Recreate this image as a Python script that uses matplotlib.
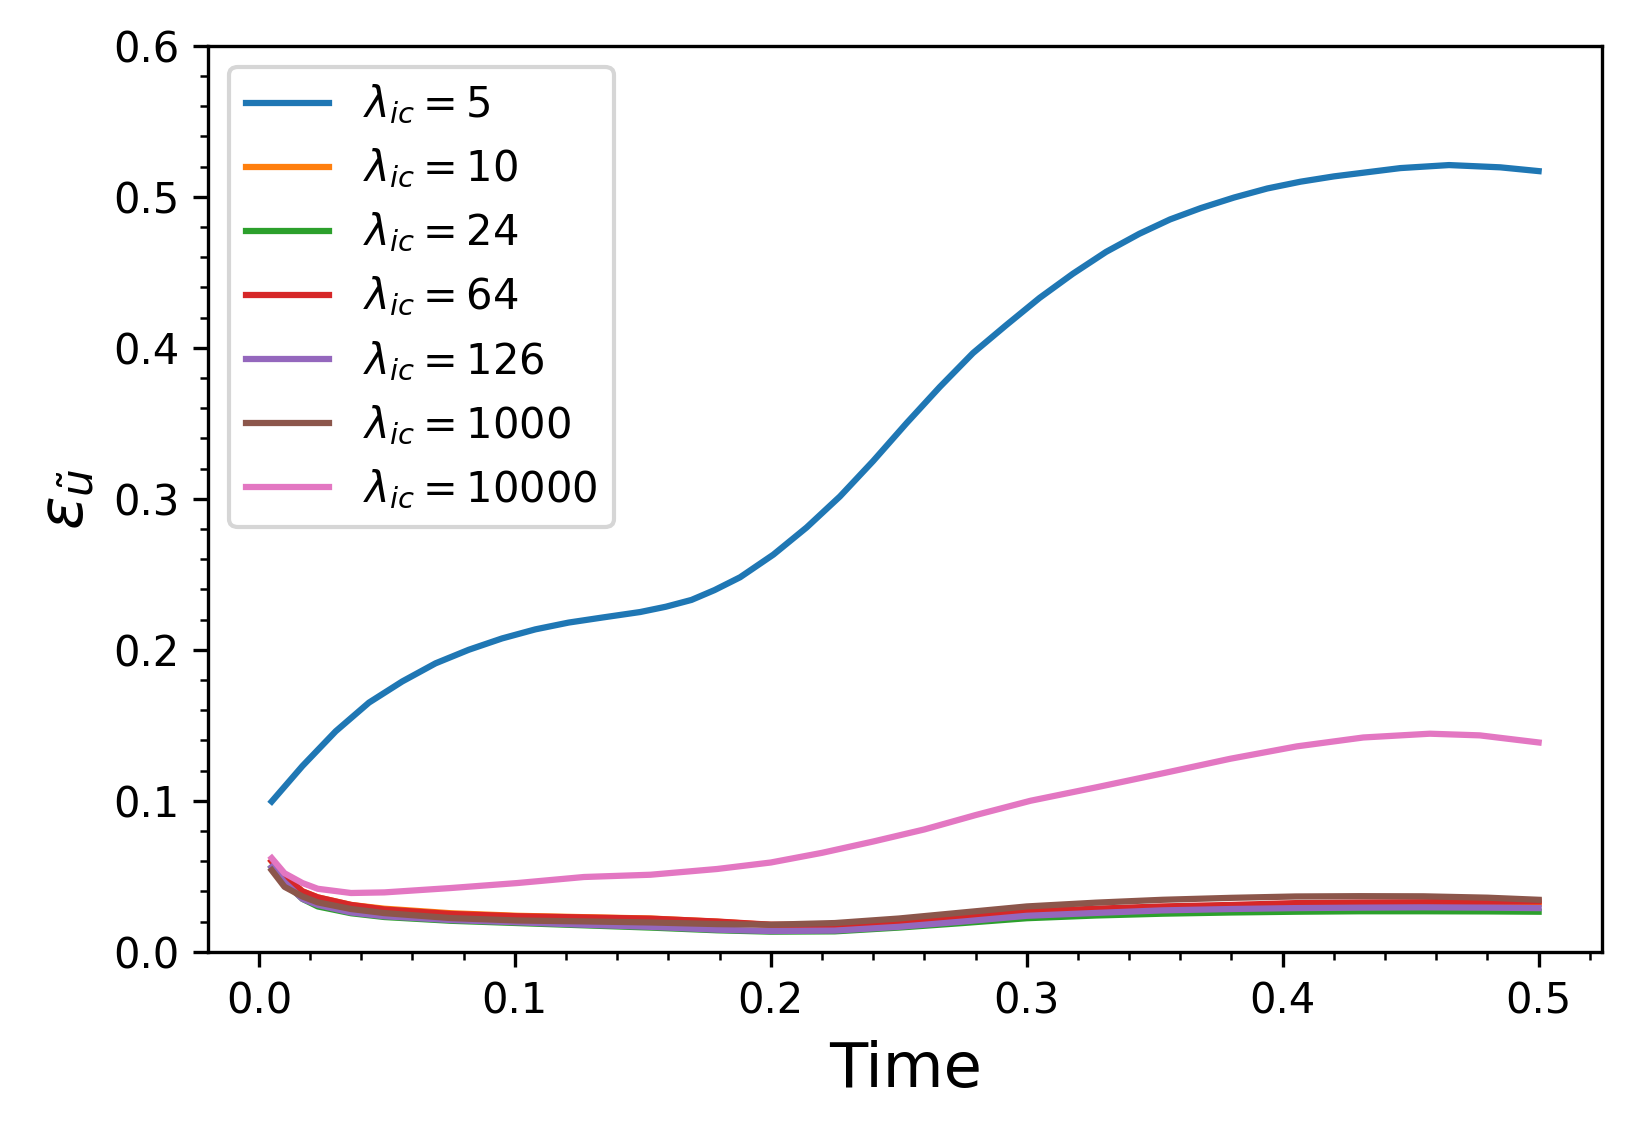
import numpy as np
import matplotlib
matplotlib.use("Agg")
import matplotlib.pyplot as plt
from matplotlib.ticker import AutoMinorLocator

lam_labels = ["5", "10", "24", "64", "126", "1000", "10000"]

# lambda_ic = 5
t_blue = [0.005, 0.017, 0.030, 0.043, 0.056, 0.069, 0.082, 0.095, 0.108, 0.121, 0.134, 0.149,
          0.159, 0.169, 0.178, 0.188, 0.201, 0.214, 0.227, 0.240, 0.253, 0.266, 0.279, 0.292,
          0.305, 0.318, 0.331, 0.344, 0.356, 0.368, 0.381, 0.394, 0.407, 0.420, 0.446, 0.465,
          0.485, 0.500]
err_5 = [0.0995, 0.123, 0.146, 0.165, 0.179, 0.191, 0.200, 0.2075, 0.2135, 0.218, 0.2213, 0.225,
         0.2285, 0.233, 0.2395, 0.248, 0.263, 0.281, 0.3015, 0.325, 0.350, 0.374, 0.3965, 0.415,
         0.433, 0.449, 0.4635, 0.4755, 0.485, 0.4925, 0.4995, 0.5055, 0.510, 0.5135, 0.519, 0.521,
         0.5195, 0.517]

# lambda_ic = 10000
t_pink = [0.005, 0.010, 0.017, 0.023, 0.036, 0.049, 0.075, 0.101, 0.127, 0.153, 0.179, 0.200,
          0.220, 0.240, 0.260, 0.280, 0.3015, 0.3275, 0.3535, 0.3795, 0.4055, 0.4315, 0.4575,
          0.477, 0.500]
err_10000 = [0.062, 0.052, 0.0455, 0.0417, 0.0389, 0.0393, 0.0422, 0.0455, 0.0495, 0.051, 0.0548,
             0.0591, 0.0655, 0.073, 0.081, 0.0905, 0.100, 0.109, 0.1183, 0.1278, 0.136, 0.1419,
             0.1444, 0.1433, 0.1386]

# the low cluster (10, 24, 64, 126, 1000)
t_low = [0.005, 0.010, 0.017, 0.023, 0.036, 0.049, 0.075, 0.101, 0.127, 0.153, 0.179, 0.200,
         0.225, 0.250, 0.275, 0.300, 0.327, 0.353, 0.380, 0.405, 0.430, 0.455, 0.480, 0.500]
err_10 = [0.060, 0.050, 0.040, 0.036, 0.031, 0.0285, 0.0255, 0.0238, 0.0229, 0.022, 0.0199, 0.0177,
          0.0176, 0.0198, 0.023, 0.0262, 0.028, 0.0295, 0.0305, 0.0313, 0.0317, 0.0319, 0.0318, 0.0318]
err_24 = [0.056, 0.046, 0.035, 0.030, 0.0255, 0.023, 0.0205, 0.019, 0.0175, 0.016, 0.0142, 0.0133,
          0.0135, 0.016, 0.019, 0.0222, 0.024, 0.0252, 0.026, 0.0265, 0.0268, 0.0268, 0.0267, 0.0265]
err_64 = [0.060, 0.050, 0.040, 0.036, 0.031, 0.028, 0.025, 0.0235, 0.0227, 0.0219, 0.020, 0.0179,
          0.0178, 0.020, 0.0235, 0.0267, 0.0285, 0.030, 0.031, 0.0322, 0.0326, 0.0328, 0.0331, 0.0333]
err_126 = [0.056, 0.046, 0.035, 0.031, 0.026, 0.0235, 0.021, 0.0195, 0.0179, 0.0165, 0.0146, 0.0137,
           0.014, 0.0165, 0.020, 0.0238, 0.0257, 0.0274, 0.0283, 0.0289, 0.0292, 0.0294, 0.0292, 0.0289]
err_1000 = [0.054, 0.043, 0.0366, 0.0327, 0.0283, 0.0256, 0.0223, 0.0207, 0.0201, 0.0194, 0.0183, 0.0179,
            0.019, 0.022, 0.026, 0.030, 0.0325, 0.0344, 0.0357, 0.0366, 0.0368, 0.0367, 0.0358, 0.0344]

series = [(t_blue, err_5), (t_low, err_10), (t_low, err_24), (t_low, err_64),
          (t_low, err_126), (t_low, err_1000), (t_pink, err_10000)]

fig = plt.figure(figsize=(1633 / 300, 1136 / 300), dpi=300)
ax = fig.add_axes([0.1276, 0.1622, 0.8534, 0.7975])

for lam, (tt, err) in zip(lam_labels, series):
    ax.plot(tt, err, label=r"$\lambda_{ic} = %s$" % lam)

ax.set_ylim(0, 0.6)
ax.xaxis.set_minor_locator(AutoMinorLocator(5))
ax.yaxis.set_minor_locator(AutoMinorLocator(5))
ax.set_xlabel("Time", fontsize=15)
ax.set_ylabel(r"$\varepsilon_{\tilde{u}}$", fontsize=15)
ax.legend(loc="upper left")

fig.savefig("out.png", dpi=300)
